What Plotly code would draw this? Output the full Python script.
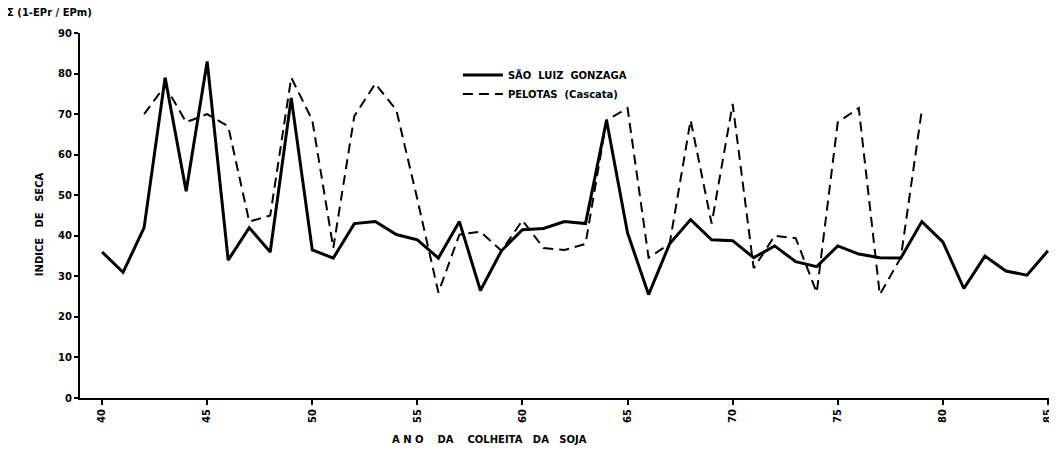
import plotly.graph_objects as go

years_slg = list(range(1940, 1986))
slg = [36, 31, 42, 79, 51, 83, 34, 42, 36, 74,
       36.5, 34.5, 43, 43.5, 40.3, 39, 34.5, 43.5, 26.5, 36.3,
       41.5, 41.8, 43.5, 43, 68.5, 40.7, 25.5, 38, 44, 39,
       38.8, 34.6, 37.5, 33.6, 32.4, 37.5, 35.5, 34.6, 34.5, 43.5,
       38.5, 27, 35, 31.3, 30.3, 36.3]

years_pel = list(range(1942, 1980))
pel = [70, 77, 68, 70, 67, 43.5, 45, 79, 68.5, 37,
       69.5, 77.5, 71, 49, 26, 40.3, 41, 36.3, 43.8, 37,
       36.5, 38, 68.5, 71.5, 34.6, 38, 68.5, 43, 72.5, 32,
       40, 39.4, 26, 68, 71.5, 25.5, 34.6, 71]

x_ticks = [40, 45, 50, 55, 60, 65, 70, 75, 80, 85]
y_ticks = [0, 10, 20, 30, 40, 50, 60, 70, 80, 90]

FONT = "DejaVu Sans"
NB = "\u00a0"
BOLD = dict(family=FONT, size=10, color="black", weight="bold")

fig = go.Figure()
fig.add_trace(go.Scatter(
    x=[y - 1900 for y in years_slg], y=slg, mode="lines",
    name="SÃO" + NB * 2 + "LUIZ" + NB * 2 + "GONZAGA",
    line=dict(color="black", width=3),
))
fig.add_trace(go.Scatter(
    x=[y - 1900 for y in years_pel], y=pel, mode="lines",
    name="PELOTAS" + NB * 2 + "(Cascata)",
    line=dict(color="black", width=2, dash="10px,6px"),
))

# page body has an 8px default margin: compensate in figure size / margins
fig.update_layout(
    width=1049, height=447,
    margin=dict(l=72, r=8, t=25, b=57, autoexpand=False),
    plot_bgcolor="white", paper_bgcolor="white",
    font=BOLD,
    showlegend=True,
    legend=dict(x=0.39, y=0.925, xanchor="left", yanchor="top",
                bgcolor="rgba(0,0,0,0)", font=BOLD,
                itemwidth=40, tracegroupgap=0),
    xaxis=dict(range=[38.95, 85.05], tickvals=x_ticks, ticktext=[str(v) for v in x_ticks],
               tickangle=-90, showgrid=False, zeroline=False, showline=True,
               linecolor="black", linewidth=2, ticks="outside", ticklen=5,
               tickwidth=2, tickcolor="black", automargin=False,
               tickfont=BOLD),
    yaxis=dict(range=[0, 90], tickvals=y_ticks, showgrid=False, zeroline=False,
               showline=True, linecolor="black", linewidth=2, ticks="outside",
               ticklen=4, tickwidth=2, tickcolor="black", automargin=False,
               tickfont=BOLD),
    annotations=[
        dict(text="INDICE" + NB * 3 + "DE" + NB * 3 + "SECA", textangle=-90,
             xref="paper", yref="paper", x=-0.041, y=0.477, xanchor="center",
             yanchor="middle", showarrow=False, font=BOLD),
        dict(text="A" + NB + "N" + NB + "O" + NB * 4 + "DA" + NB * 4 + "COLHEITA" + NB * 3 + "DA" + NB * 3 + "SOJA",
             xref="paper", yref="paper", x=0.4224, y=-0.115, xanchor="center",
             yanchor="middle", showarrow=False, font=BOLD),
        dict(text="Σ" + NB + "(1-EPr" + NB + "/" + NB + "EPm)",
             xref="paper", yref="paper", x=-0.077, y=1.055, xanchor="left",
             yanchor="middle", showarrow=False, font=BOLD),
    ],
)

fig.write_html("out.html")
